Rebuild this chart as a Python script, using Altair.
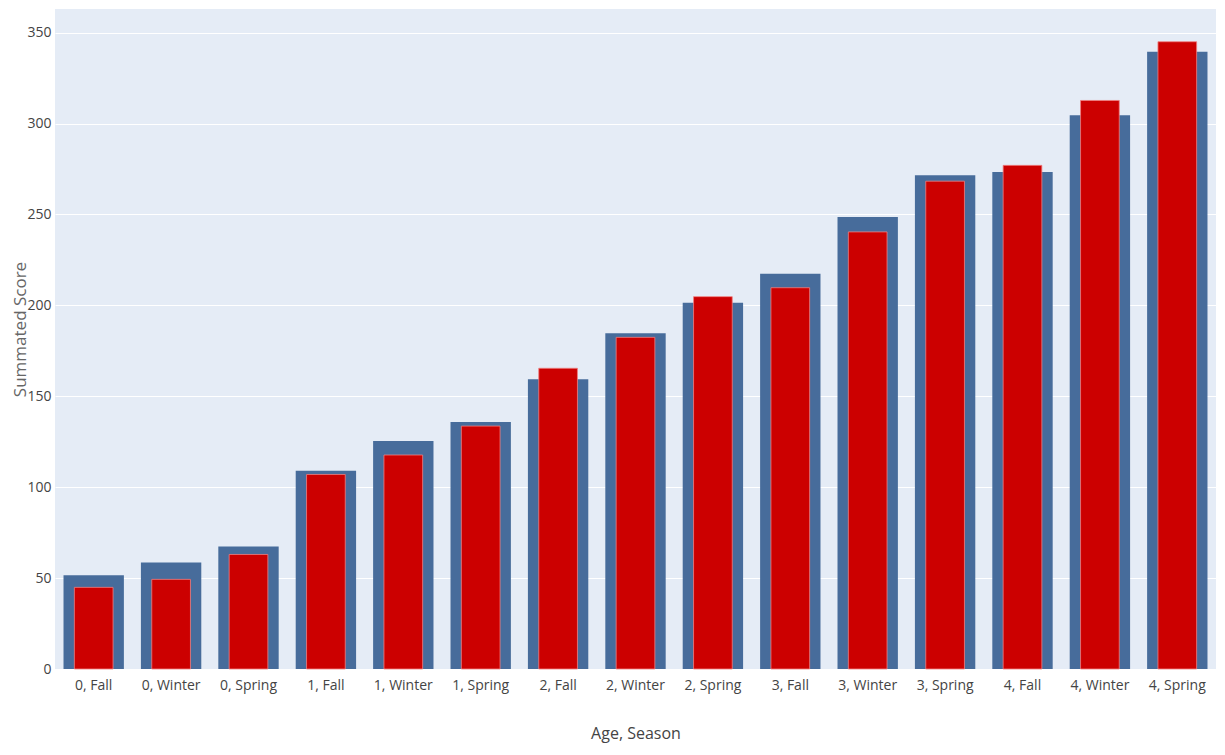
import altair as alt
import pandas as pd

categories = ["0, Fall", "0, Winter", "0, Spring", "1, Fall", "1, Winter", "1, Spring",
              "2, Fall", "2, Winter", "2, Spring", "3, Fall", "3, Winter", "3, Spring",
              "4, Fall", "4, Winter", "4, Spring"]
blue_values = [51.5, 58.6, 67.4, 109, 125.4, 135.8, 159.4, 184.6, 201.5, 217.4, 248.6, 271.6, 273.3, 304.5, 339.5]
red_values = [44.9, 49.3, 63, 107, 117.7, 133.6, 165.4, 182.4, 204.8, 209.7, 240.4, 268.3, 277, 312.7, 345]
y_ticks = [0, 50, 100, 150, 200, 250, 300, 350]

df = pd.DataFrame({"cat": categories, "blue": blue_values, "red": red_values})

x_enc = alt.X("cat:N", sort=categories,
              scale=alt.Scale(paddingInner=0, paddingOuter=0),
              axis=alt.Axis(title="Age, Season", labelAngle=0, labelPadding=9,
                            labelFontSize=14, labelColor="#444", labelFont="Open Sans",
                            titleFontSize=16, titleFont="Open Sans", titleColor="#444",
                            titleFontWeight="normal", titleY=64, titleBaseline="middle",
                            ticks=False, domain=False, grid=False))

y_scale = alt.Scale(domain=[0, 363], nice=False, zero=True)

blue = alt.Chart(df).mark_bar(color="#476C9B", width=alt.RelativeBandSize(0.78)).encode(
    x=x_enc,
    y=alt.Y("blue:Q", scale=y_scale,
            axis=alt.Axis(title="Summated Score", values=y_ticks, labelFontSize=14,
                          labelColor="#444", labelFont="Open Sans", labelPadding=4,
                          titleFontSize=17, titleFont="Open Sans", titleColor="#666",
                          titleFontWeight="normal", titleX=-35, titleY=320,
                          titleAngle=-90, titleAlign="center", titleBaseline="middle",
                          ticks=False, domain=False, grid=True, gridColor="white",
                          gridWidth=1.2)),
)

red = alt.Chart(df).mark_bar(color="#CC0000", stroke="#F08080", strokeWidth=0.8,
                             width=alt.RelativeBandSize(0.5)).encode(
    x=alt.X("cat:N", sort=categories),
    y=alt.Y("red:Q", scale=y_scale),
)

chart = alt.layer(blue, red).properties(
    width=1161, height=660,
    padding={"left": 3, "top": 1, "right": 0, "bottom": 3},
    view=alt.ViewBackground(fill="#E5ECF6", strokeWidth=0),
).configure(background="white")

chart.save("out.html", embed_options={"renderer": "svg", "actions": False})
